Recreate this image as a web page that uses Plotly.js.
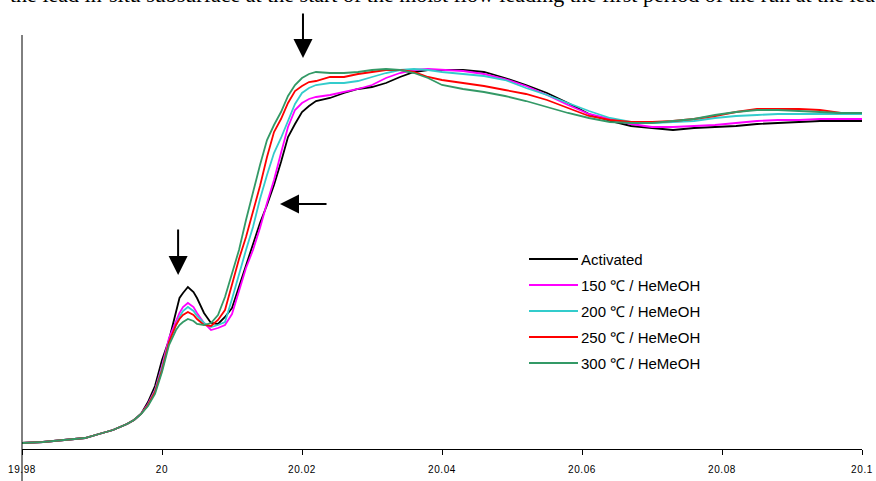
<!DOCTYPE html>
<html><head><meta charset="utf-8">
<script src="https://cdn.plot.ly/plotly-3.0.1.min.js"></script>
<style>
html,body{margin:0;padding:0;background:#fff}
#chart{width:876px;height:481px}
#chart .xtick text{letter-spacing:0.6px}
</style>
</head><body><div id="chart"></div>
<script>
// ---- data (time axis, arbitrary-unit signal) ----
const xValues = [
  19.980, 19.983, 19.986, 19.989, 19.991, 19.993, 19.995, 19.996, 19.997, 19.998,
  19.999, 20.000, 20.001, 20.002, 20.0025, 20.003, 20.0037, 20.0045, 20.005, 20.006,
  20.007, 20.008, 20.009, 20.010, 20.011, 20.012, 20.013, 20.014, 20.015, 20.016,
  20.017, 20.018, 20.019, 20.020, 20.021, 20.022, 20.024, 20.026, 20.028, 20.030,
  20.032, 20.034, 20.036, 20.038, 20.040, 20.043, 20.046, 20.049, 20.052, 20.055,
  20.058, 20.061, 20.064, 20.067, 20.070, 20.073, 20.076, 20.079, 20.082, 20.085,
  20.088, 20.091, 20.094, 20.097, 20.100
];
const activated = [
  6,7,9,11,15,19,25,29,35,47, 63,89,109,136,151,156,162,157,151,136,
  126,125,132,141,162,183,205,226,244,264, 287,312,325,337,343,348,351,356,360,362,
  366,372,377,379,379,379,377,371,364,356, 346,335,328,323,321,319,321,322,323,325,
  326,327,328,328,328
];
const he150 = [
  6,7,9,11,15,19,25,29,35,45, 59,83,111,129,136,142,146,142,136,126,
  119,121,124,135,159,181,199,221,246,269, 296,322,339,346,350,352,354,357,360,364,
  371,376,379,380,379,378,375,370,363,354, 344,335,330,325,322,322,323,324,326,328,
  329,329,330,330,330
];
const he200 = [
  6,7,9,11,15,19,25,29,35,44, 58,81,107,125,132,138,142,138,133,126,
  122,124,127,150,175,199,222,250,274,296, 311,329,345,356,361,364,366,366,368,372,
  376,379,380,379,377,375,373,369,361,354, 346,338,331,327,326,327,328,331,333,334,
  335,335,335,335,335
];
const he250 = [
  6,7,9,11,15,19,25,29,35,44, 57,79,107,124,130,134,137,134,130,124,
  123,129,139,165,190,212,238,263,292,317, 330,346,358,363,367,368,372,372,375,377,
  379,379,377,372,369,366,363,359,355,349, 341,333,329,327,327,328,330,333,337,340,
  340,340,339,336,336
];
const he300 = [
  6,7,9,11,15,19,25,29,35,43, 55,77,104,119,124,127,130,128,125,124,
  126,134,152,176,199,229,257,284,309,324, 337,353,364,371,375,377,376,376,377,379,
  380,379,376,371,364,360,357,353,348,342, 336,331,327,326,326,328,330,334,337,339,
  339,338,337,336,336
];
const seriesNames = ['Activated', '150 \u2103 / HeMeOH', '200 \u2103 / HeMeOH', '250 \u2103 / HeMeOH', '300 \u2103 / HeMeOH'];
const seriesColors = ['#000000', '#FF00FF', '#33CCCC', '#FF0000', '#339966'];
const tickValues = [19.98, 20, 20.02, 20.04, 20.06, 20.08, 20.1];
const tickLabels = ['19.98', '20', '20.02', '20.04', '20.06', '20.08', '20.1'];
const captionText = 'the lead in-situ subsurface at the start of the moist flow leading the first period of the run at the lead';

// ---- build ----
const seriesValues = [activated, he150, he200, he250, he300];
const traces = seriesValues.map((ys, i) => ({
  type: 'scatter', mode: 'lines', x: xValues, y: ys, name: seriesNames[i],
  line: {color: seriesColors[i], width: 1.8}, showlegend: false, hoverinfo: 'x+y+name'
}));

// plot geometry (pixels)
const M = {l: 22, r: 14, t: 35, b: 32};
const PW = 876 - M.l - M.r, PH = 481 - M.t - M.b;
const px = v => (v - M.l) / PW;
const py = v => (M.t + PH - v) / PH;

const shapes = [
  {type: 'line', xref: 'paper', yref: 'paper', x0: 0, x1: 0, y0: py(481), y1: 1, line: {color: '#000', width: 1}}
];
const annotations = [];
// legend built from the series arrays
seriesNames.forEach((n, i) => {
  const yy = 259 + 26 * i;
  shapes.push({type: 'line', xref: 'paper', yref: 'paper', x0: px(529), x1: px(578), y0: py(yy), y1: py(yy),
    line: {color: seriesColors[i], width: 2}});
  annotations.push({xref: 'paper', yref: 'paper', x: px(579), y: py(yy), xanchor: 'left', yanchor: 'middle',
    text: n, showarrow: false, font: {size: 15, color: '#000', family: 'Liberation Sans, Arial, sans-serif'}});
});
// arrows
const arrowStyle = {text: '', showarrow: true, arrowhead: 2, arrowwidth: 2, arrowsize: 1.9, arrowcolor: '#000',
  axref: 'pixel', ayref: 'pixel', xref: 'x', yref: 'y', standoff: 0};
annotations.push(Object.assign({}, arrowStyle, {x: 20.02014, y: 391, ax: 0, ay: -46}));
annotations.push(Object.assign({}, arrowStyle, {x: 20.0023, y: 174, ax: 0, ay: -47}));
annotations.push(Object.assign({}, arrowStyle, {x: 20.01686, y: 245, ax: 48, ay: 0}));
// caption of the page, clipped at the top edge as in the original
annotations.push({xref: 'paper', yref: 'paper', x: px(8), y: py(9), xanchor: 'left', yanchor: 'bottom',
  text: captionText, showarrow: false, font: {family: 'Liberation Serif, Times New Roman, serif', size: 22, color: '#000'}});

const layout = {
  width: 876, height: 481,
  margin: M,
  paper_bgcolor: '#ffffff', plot_bgcolor: '#ffffff',
  font: {family: 'Liberation Sans, Arial, sans-serif', color: '#000'},
  showlegend: false,
  xaxis: {
    range: [19.98, 20.1], tickmode: 'array', tickvals: tickValues, ticktext: tickLabels,
    showgrid: false, zeroline: false, showline: true, linecolor: '#000', linewidth: 1,
    ticks: 'outside', ticklen: 5, tickcolor: '#000', tickfont: {size: 10, color: '#000'},
    ticklabelstandoff: 6
  },
  yaxis: {
    range: [0, PH], showgrid: false, zeroline: false, showline: false, showticklabels: false, ticks: ''
  },
  shapes: shapes,
  annotations: annotations
};
Plotly.newPlot('chart', traces, layout, {displayModeBar: false, staticPlot: true});
</script></body></html>
